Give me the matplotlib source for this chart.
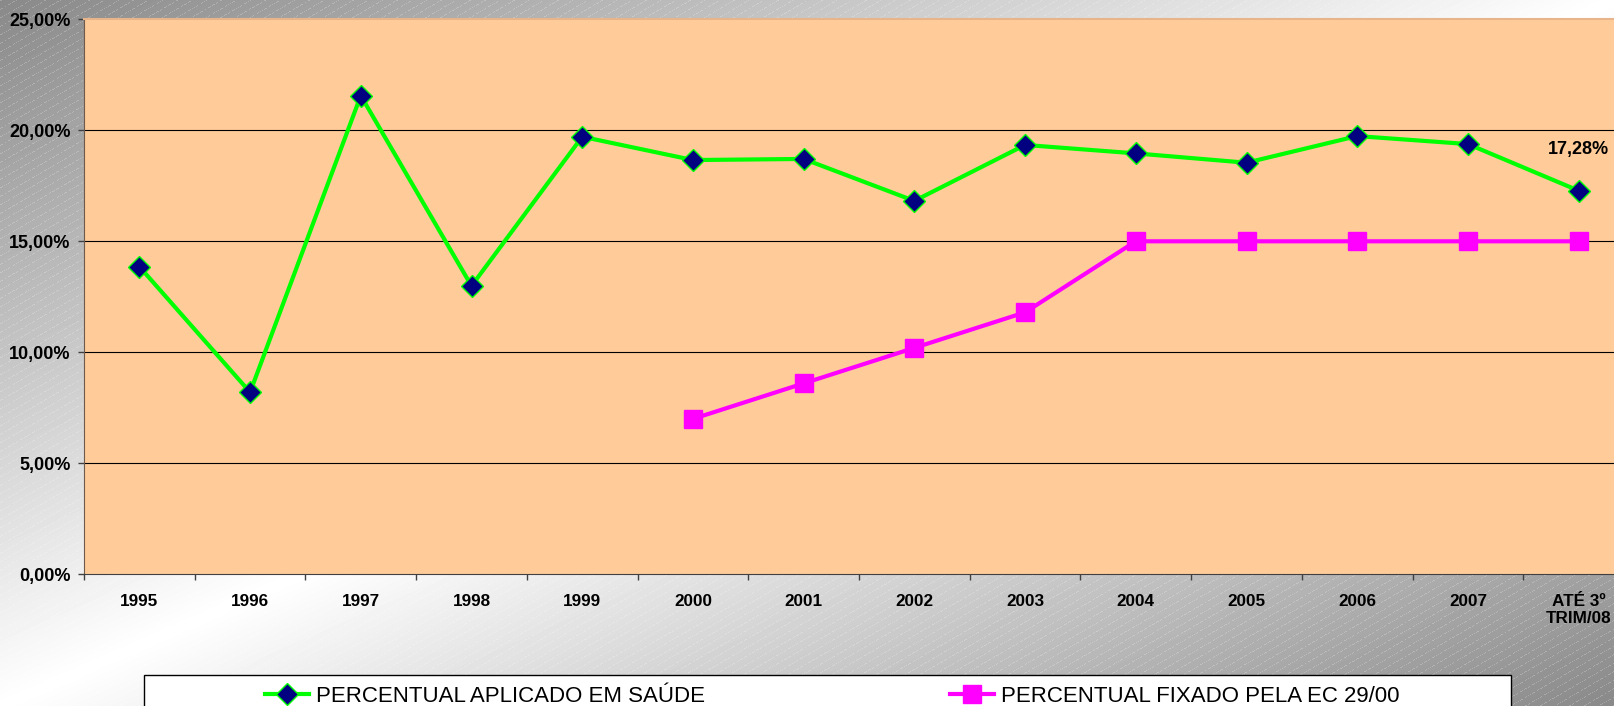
import numpy as np
import matplotlib
matplotlib.use('Agg')
import matplotlib.pyplot as plt
from matplotlib.patches import Rectangle
from matplotlib.ticker import FuncFormatter

plt.rcParams['font.family'] = ['Liberation Sans', 'DejaVu Sans']

# dados
anos = ['1995', '1996', '1997', '1998', '1999', '2000', '2001', '2002',
        '2003', '2004', '2005', '2006', '2007', 'ATÉ 3º\nTRIM/08']
aplicado = [13.86, 8.20, 21.56, 12.99, 19.71, 18.66, 18.71, 16.82,
            19.34, 18.96, 18.54, 19.74, 19.38, 17.28]
fixado = [np.nan, np.nan, np.nan, np.nan, np.nan, 7.0, 8.6, 10.2,
          11.8, 15.0, 15.0, 15.0, 15.0, 15.0]
serie1 = 'PERCENTUAL APLICADO EM SAÚDE'
serie2 = 'PERCENTUAL FIXADO PELA EC 29/00'

W, H = 1614, 706
fig = plt.figure(figsize=(W / 100, H / 100), dpi=100)

# fundo cinza em degrade com listras diagonais finas
yy, xx = np.mgrid[0:H, 0:W]
s = xx / W + yy / H
v = 255 - 118 * np.abs(s - 1)
stripes = (((yy + 0.58 * xx) % 8.5) < 0.8) & ((xx % 4) < 3)
v = np.where(stripes, v + (255 - v) * 0.22, v)
bg = fig.add_axes([0, 0, 1, 1])
bg.imshow(v, cmap='gray', vmin=0, vmax=255, aspect='auto', interpolation='nearest')
bg.axis('off')

ax = fig.add_axes([84 / W, 131.7 / H, 1550 / W, 555 / H])
ax.set_facecolor('#FFCC99')
x = np.arange(len(anos))

l1, = ax.plot(x, aplicado, color='#00FF00', lw=3, marker='D', ms=11,
              mfc='#000080', mec='#00FF00', mew=1, zorder=3)
l2, = ax.plot(x, fixado, color='#FF00FF', lw=3, marker='s', ms=12.5,
              mfc='#FF00FF', mec='#FF00FF', zorder=3)

ax.set_xlim(-0.5, len(anos) - 0.5)
ax.set_ylim(0, 25)
ax.set_yticks(np.arange(0, 26, 5))
ax.yaxis.set_major_formatter(FuncFormatter(lambda val, p: f'{val:.2f}'.replace('.', ',') + '%'))
ax.tick_params(axis='y', length=4.3, width=1, color='#404040', pad=5.5, labelsize=13)
for lbl in ax.get_yticklabels():
    lbl.set_fontweight('bold')

ax.set_xticks(x)
ax.set_xticklabels(anos, fontweight='bold')
ax.set_xticks(np.arange(-0.5, len(anos), 1), minor=True)
ax.tick_params(axis='x', which='major', length=0, pad=14, labelsize=12.3)
ax.tick_params(axis='x', which='minor', length=4, width=1, color='#404040')

ax.yaxis.grid(True, color='black', lw=0.8)
ax.set_axisbelow(True)
gls = ax.get_ygridlines()
gls[0].set_visible(False)
gls[-1].set_visible(False)

ax.spines['top'].set_color('#E8B48C')
ax.spines['top'].set_linewidth(1.5)
ax.spines['left'].set_color('#6E5A4A')
ax.spines['bottom'].set_color('#404040')
ax.spines['right'].set_visible(False)

ax.annotate('17,28%', (x[-1], aplicado[-1]), xytext=(0, 30), textcoords='offset points',
            ha='center', va='center', fontweight='bold', fontsize=13)

# caixa da legenda
fig.add_artist(Rectangle((144 / W, -0.1), (1511 - 144) / W, (706 - 675) / H + 0.1,
                         transform=fig.transFigure, fc='white', ec='black', lw=1))
fig.legend(handles=[l1, l2], labels=[serie1, serie2], loc='center left',
           bbox_to_anchor=(265 / W, 1 - 696 / H), ncol=2, frameon=False,
           fontsize=16, handlelength=2.0, handletextpad=0.3, columnspacing=11.0,
           borderaxespad=0, borderpad=0)

fig.savefig('out.png', dpi=100)
